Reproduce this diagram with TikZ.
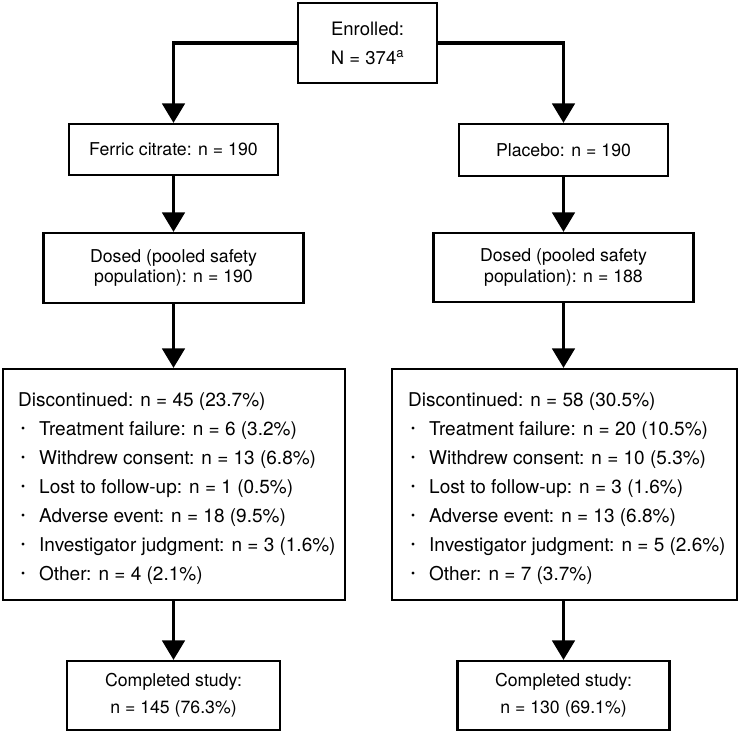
\documentclass[tikz,border=0pt]{standalone}
\usepackage{fontspec}
\setmainfont{TeX Gyre Heros}
\usetikzlibrary{arrows.meta}
\newcommand{\bul}{\raisebox{2.4pt}{\fontsize{11.5}{11.5}\selectfont\textbullet}}
\tikzset{
  box/.style={draw=black, line width=2.2pt, inner sep=0pt, fill=white},
  boxtxt/.style={font=\fontsize{17.7}{20.5}\selectfont, align=center},
  arr/.style={line width=3.3pt, -{Triangle[length=19.5pt,width=22.5pt]}},
  listline/.style={anchor=base west, inner sep=0pt, font=\fontsize{19}{23}\selectfont}
}
\begin{document}
\begin{tikzpicture}[x=1pt,y=-1pt]
\useasboundingbox (0,0) rectangle (740,734);
% boxes
\node[box, minimum width=139pt, minimum height=80pt, align=center,
      font=\fontsize{18.5}{29}\selectfont] (top) at (367.5,43)
      {Enrolled:\\N = 374\textsuperscript{a}};
\node[box, boxtxt, minimum width=209pt, minimum height=51pt] (ferric) at (173.5,149.5) {Ferric citrate: n = 190};
\node[box, boxtxt, minimum width=209pt, minimum height=52pt] (placebo) at (563.5,150) {Placebo: n = 190};
\node[box, boxtxt, minimum width=260pt, minimum height=70pt] (dosL) at (173.5,268) {Dosed (pooled safety\\population): n = 190};
\node[box, boxtxt, minimum width=260pt, minimum height=69pt] (dosR) at (563.5,267.5) {Dosed (pooled safety\\population): n = 188};
\node[box, minimum width=342pt, minimum height=231pt] (discL) at (174,484.5) {};
\node[box, minimum width=345pt, minimum height=231pt] (discR) at (564.5,484.5) {};
\node[box, minimum width=213pt, minimum height=69pt, align=center,
      font=\fontsize{17.7}{27}\selectfont] (compL) at (173.5,695.5) {Completed study:\\n = 145 (76.3\%)};
\node[box, minimum width=212pt, minimum height=69pt, align=center,
      font=\fontsize{17.7}{27}\selectfont] (compR) at (563.5,695.5) {Completed study:\\n = 130 (69.1\%)};
% list texts
\node[listline] (lh) at (18,406) {Discontinued: n = 45 (23.7\%)};
\node[listline] (rh) at (408,406) {Discontinued: n = 58 (30.5\%)};
\foreach \t [count=\i] in {Treatment failure: n = 6 (3.2\%),Withdrew consent: n = 13 (6.8\%),Lost to follow-up: n = 1 (0.5\%),Adverse event: n = 18 (9.5\%),Investigator judgment: n = 3 (1.6\%),Other: n = 4 (2.1\%)}
  \node[listline] (l\i) at (21,406+29*\i) {\makebox[18pt][l]{\bul}\t};
\foreach \t [count=\i] in {Treatment failure: n = 20 (10.5\%),Withdrew consent: n = 10 (5.3\%),Lost to follow-up: n = 3 (1.6\%),Adverse event: n = 13 (6.8\%),Investigator judgment: n = 5 (2.6\%),Other: n = 7 (3.7\%)}
  \node[listline] (r\i) at (411,406+29*\i) {\makebox[18pt][l]{\bul}\t};
% connectors
\draw[arr] (top.west) -| (ferric.north);
\draw[arr] (top.east) -| (placebo.north);
\draw[arr] (ferric.south) -- (ferric.south |- dosL.north);
\draw[arr] (placebo.south) -- (placebo.south |- dosR.north);
\draw[arr] (dosL.south) -- (dosL.south |- discL.north);
\draw[arr] (dosR.south) -- (dosR.south |- discR.north);
\draw[arr] (compL.north |- discL.south) -- (compL.north);
\draw[arr] (compR.north |- discR.south) -- (compR.north);
\end{tikzpicture}
\end{document}
